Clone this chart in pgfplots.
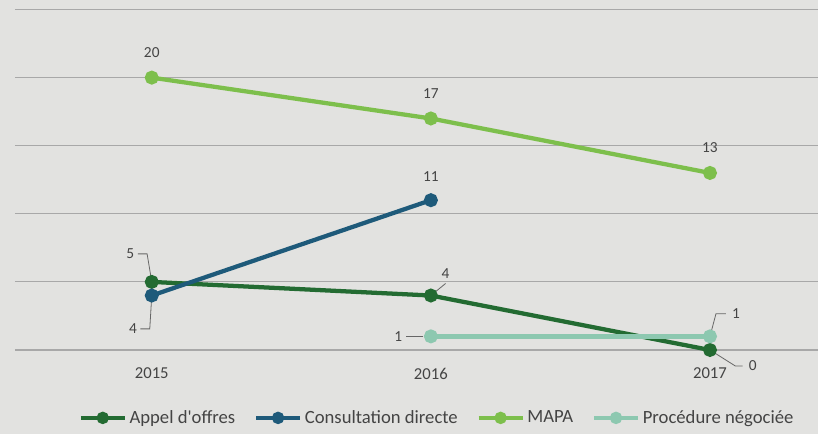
\documentclass[border=0pt]{standalone}
\usepackage{fontspec}
\setmainfont{Carlito}
\usepackage{pgfplots}
\pgfplotsset{compat=1.18}
\definecolor{bg}{HTML}{E2E2E0}
\definecolor{cAppel}{HTML}{236B32}
\definecolor{cConsult}{HTML}{1E5A7A}
\definecolor{cMapa}{HTML}{7DBF4C}
\definecolor{cProc}{HTML}{8DC8B0}
\definecolor{txt}{HTML}{444444}
\definecolor{gridc}{HTML}{A8A8A8}
\begin{document}
\begin{tikzpicture}
\fill[bg] (-11.25pt,-63pt) rectangle (602.25pt,262.5pt);
\useasboundingbox (-11.25pt,-63pt) rectangle (602.25pt,262.5pt);
\begin{axis}[
  scale only axis, width=602.25pt, height=262.5pt,
  xmin=-0.49, xmax=2.387, ymin=0, ymax=25.7,
  axis line style={draw=none},
  tick style={draw=none},
  ytick={0,5,...,25}, yticklabels={},
  ymajorgrids, major grid style={gridc, line width=0.8pt},
  xtick={0,1,2}, xticklabels={2015,2016,2017},
  xticklabel style={yshift=-10pt, font=\fontsize{12.5}{14}\selectfont, text=txt},
  clip=false,
  every axis plot/.append style={line width=3.2pt, mark=*, mark size=3.6pt},
  legend style={at={(rel axis cs:0.526,-0.194)}, anchor=center, draw=none, fill=none,
    font=\fontsize{14}{16}\selectfont, text=txt,
    /tikz/every even column/.append style={column sep=12pt}},
  legend columns=-1,
  legend image code/.code={\draw[mark repeat=2,mark phase=2, mark size=3pt] plot coordinates {(0pt,0pt)(16.5pt,0pt)(33pt,0pt)};},
]
\addplot[cAppel] coordinates {(0,5) (1,4) (2,0)};
\addlegendentry{Appel d\textquotesingle offres}
\addplot[cConsult] coordinates {(0,4) (1,11)};
\addlegendentry{Consultation directe}
\addplot[cMapa] coordinates {(0,20) (1,17) (2,13)};
\addlegendentry{MAPA}
\addplot[cProc] coordinates {(1,1) (2,1)};
\addlegendentry{Procédure négociée}

\begin{scope}[every node/.style={font=\fontsize{11.5}{13}\selectfont, text=txt}]
\node at ([yshift=19pt]axis cs:0,20) {20};
\node at ([yshift=19pt]axis cs:1,17) {17};
\node at ([yshift=19pt]axis cs:2,13) {13};
\node at ([yshift=18pt]axis cs:1,11) {11};
% leader labels
\draw[gray!80!black, line width=0.6pt] (axis cs:0,5) -- ++(-3.5pt,21pt) -- ++(-7pt,0pt) node[left=-1pt] {5};
\draw[gray!80!black, line width=0.6pt] (axis cs:0,4) -- ++(-1.5pt,-25pt) -- ++(-7pt,0pt) node[left=-1pt] {4};
\draw[gray!80!black, line width=0.6pt] (axis cs:1,4) -- ++(11pt,9pt) node[above=0pt] {4};
\draw[gray!80!black, line width=0.6pt] ([xshift=-6pt]axis cs:1,1) -- ([xshift=-19pt]axis cs:1,1) node[left=-1pt] {1};
\draw[gray!80!black, line width=0.6pt] (axis cs:2,1) -- ++(4.5pt,17pt) -- ++(7.5pt,0pt) node[right=1pt] {1};
\draw[gray!80!black, line width=0.6pt] (axis cs:2,0) -- ++(19pt,-12pt) -- ++(5.5pt,0pt) node[right=1pt] {0};
\end{scope}
\end{axis}
\end{tikzpicture}
\end{document}
